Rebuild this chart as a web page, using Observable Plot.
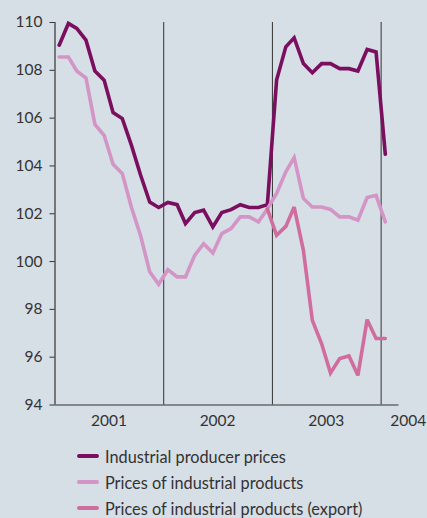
<!DOCTYPE html>
<html>
<head>
<meta charset="utf-8">
<script src="https://cdn.jsdelivr.net/npm/d3@7"></script>
<script src="https://cdn.jsdelivr.net/npm/@observablehq/plot@0.6"></script>
<style>
  html, body { margin: 0; padding: 0; background: #d6dee6; }
  body { width: 427px; height: 518px; overflow: hidden; font-family: Lato, "Open Sans", sans-serif; color: #333; }
  #legend { margin-top: 11px; }
  .row { height: 26px; display: flex; align-items: center; font-size: 16.3px; }
  .sw { width: 22px; height: 4px; border-radius: 2px; margin-left: 77px; margin-right: 6px; }
</style>
</head>
<body>
<div id="chart"></div>
<div id="legend"></div>
<script>
const seriesNames = ["Industrial producer prices", "Prices of industrial products", "Prices of industrial products (export)"];
const seriesColors = ["#7b0f5f", "#d395c5", "#d06d9e"];

// monthly, Jan 2001 .. Jan 2004
const producer = [109.05, 109.96, 109.75, 109.26, 107.97, 107.59, 106.23, 105.98, 104.85, 103.63, 102.49, 102.26,
                  102.47, 102.38, 101.59, 102.05, 102.15, 101.45, 102.05, 102.17, 102.38, 102.26, 102.26, 102.38,
                  107.59, 108.98, 109.36, 108.28, 107.9, 108.28, 108.28, 108.07, 108.07, 107.97, 108.87, 108.77,
                  104.49];
const products = [108.56, 108.56, 107.97, 107.68, 105.74, 105.28, 104.07, 103.68, 102.25, 101.1, 99.57, 99.05,
                  99.66, 99.36, 99.36, 100.26, 100.75, 100.36, 101.17, 101.38, 101.87, 101.87, 101.66, 102.2,
                  102.85, 103.75, 104.35, 102.64, 102.28, 102.28, 102.18, 101.87, 101.87, 101.73, 102.68, 102.77,
                  101.66];
const exportPrices = [null, null, null, null, null, null, null, null, null, null, null, null,
                  null, null, null, null, null, null, null, null, null, null, null, 102.2,
                  101.1, 101.47, 102.28, 100.47, 97.54, 96.57, 95.34, 95.94, 96.05, 95.24, 97.57, 96.78,
                  96.78];

const yearLabels = ["2001", "2002", "2003", "2004"];
const yearLabelDates = ["2001-07-01", "2002-07-01", "2003-07-01", "2004-04-01"];
const yearBoundaries = ["2002-01-01", "2003-01-01", "2004-01-01"];
const yTicks = [94, 96, 98, 100, 102, 104, 106, 108, 110];

const months = d3.utcMonth.range(new Date("2001-01-01"), new Date("2004-02-01")).map(d => new Date(d.getTime() + 14 * 864e5));
const allSeries = [producer, products, exportPrices];
const rows = [];
allSeries.forEach((vals, s) => vals.forEach((v, i) => rows.push({date: months[i], value: v, series: seriesNames[s]})));

const chart = Plot.plot({
  width: 427,
  height: 432,
  marginLeft: 54.5,
  marginRight: 28.5,
  marginTop: 22,
  marginBottom: 27.5,
  style: {background: "transparent", fontFamily: "Lato, 'Open Sans', sans-serif", fontSize: "15px", color: "#333"},
  x: {type: "utc", domain: [new Date("2001-01-01"), new Date("2004-03-01")], axis: null},
  y: {domain: [94, 110], axis: null},
  color: {domain: seriesNames, range: seriesColors},
  marks: [
    Plot.ruleX(yearBoundaries.map(d => new Date(d)), {y1: 94, y2: 110, stroke: "#333", strokeWidth: 1}),
    Plot.ruleX([new Date("2001-01-01")], {y1: 94, y2: 110, stroke: "#333", strokeWidth: 1.2}),
    Plot.ruleY([94], {x1: new Date("2001-01-01"), x2: new Date("2004-03-01"), stroke: "#333", strokeWidth: 1.2}),
    Plot.axisY(yTicks, {tickSize: 5, tickPadding: 7.5, stroke: "#333", fill: "#333", fontSize: 15.5, label: null}),
    Plot.text(yearLabels, {x: (d, i) => new Date(yearLabelDates[i]), y: 94, dy: 16, text: d => d, fill: "#333", fontSize: 15.5}),
    Plot.line(rows, {x: "date", y: "value", z: "series", stroke: "series", strokeWidth: 3.6, strokeLinejoin: "miter", strokeMiterlimit: 3, defined: d => d.value != null})
  ]
});
document.getElementById("chart").appendChild(chart);

const legend = document.getElementById("legend");
seriesNames.forEach((name, i) => {
  const row = document.createElement("div");
  row.className = "row";
  const sw = document.createElement("span");
  sw.className = "sw";
  sw.style.background = seriesColors[i];
  const t = document.createElement("span");
  t.textContent = name;
  row.appendChild(sw);
  row.appendChild(t);
  legend.appendChild(row);
});
</script>
</body>
</html>
